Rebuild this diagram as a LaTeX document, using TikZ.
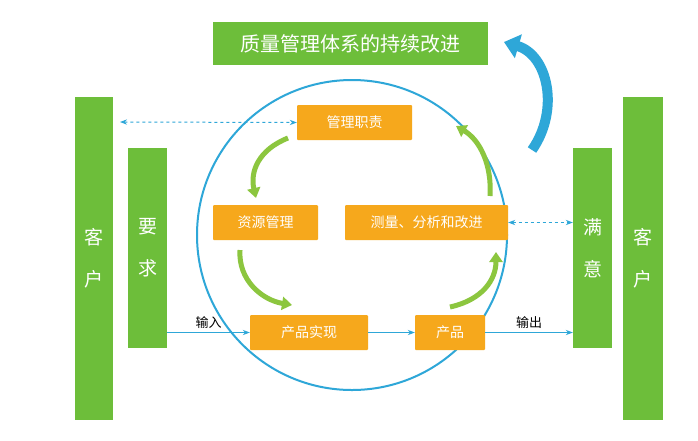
\documentclass[tikz,border=0pt]{standalone}
\usepackage{fontspec}
\setmainfont{Noto Sans CJK SC}
\usetikzlibrary{arrows.meta}
\definecolor{gbar}{HTML}{6DBE3A}
\definecolor{obox}{HTML}{F6A81C}
\definecolor{cblue}{HTML}{2EA7D8}
\definecolor{garr}{HTML}{8CC63F}
\begin{document}
\begin{tikzpicture}[x=1pt,y=-1pt,
  bar/.style={draw=none,fill=gbar,text=white,font=\fontsize{19}{22}\selectfont},
  box/.style={draw=none,fill=obox,text=white,font=\fontsize{14}{16}\selectfont,rounded corners=1pt},
  conn/.style={cblue,line width=1pt,-{Stealth[length=7pt]}},
  dconn/.style={cblue,line width=1pt,dashed,{Stealth[length=7pt]}-{Stealth[length=7pt]}},
  garrow/.style={garr,line width=5pt,-{Triangle[width=13pt,length=10pt]}},
  lab/.style={font=\fontsize{13}{15}\selectfont,text=black}]
\useasboundingbox (0,0) rectangle (698,440);
\fill[white] (0,0) rectangle (698,440);
\draw[cblue,line width=2pt] (352,235) circle (155);
% bars
\node[bar,minimum width=38pt,minimum height=323pt,align=center] (kl) at (94,258) {客\\[20pt]户};
\node[bar,minimum width=39pt,minimum height=200pt,align=center] (yq) at (147.5,248) {要\\[20pt]求};
\node[bar,minimum width=39pt,minimum height=200pt,align=center] (my) at (592.5,248) {满\\[20pt]意};
\node[bar,minimum width=40pt,minimum height=323pt,align=center] (kr) at (643,258) {客\\[20pt]户};
\node[bar,minimum width=275pt,minimum height=43pt,font=\fontsize{20}{24}\selectfont] (top) at (350.5,43.5) {质量管理体系的持续改进};
% boxes
\node[box,minimum width=115pt,minimum height=35pt] (gl) at (354.5,122.5) {管理职责};
\node[box,minimum width=105pt,minimum height=35pt] (zy) at (265.5,222.5) {资源管理};
\node[box,minimum width=163pt,minimum height=35pt] (cl) at (426.5,222.5) {测量、分析和改进};
\node[box,minimum width=118pt,minimum height=35pt] (sx) at (309,332.5) {产品实现};
\node[box,minimum width=70pt,minimum height=35pt] (cp) at (450,332.5) {产品};
% connectors
\coordinate (dl) at (120,122);
\draw[dconn] (dl) -- (gl.west);
\draw[dconn] (cl.east) -- (my.west|-cl);
\draw[conn] (yq.east|-sx) -- node[lab,above] {输入} (sx.west);
\draw[conn] (sx.east) -- (cp.west);
\draw[conn] (cp.east) -- node[lab,above] {输出} (my.west|-cp);
% green arrows
\draw[garrow] (288,138) .. controls (258,150) and (250,172) .. (256,198);
\draw[garrow] (240,250) .. controls (238,280) and (262,300) .. (292,305);
\draw[garrow] (450,307) .. controls (482,300) and (496,280) .. (496,252);
\draw[garrow] (490,196) .. controls (492,165) and (480,140) .. (456,126);
% blue improvement arrow
\coordinate (b1) at (532,150);
\coordinate (b2) at (504,42);
\draw[cblue,line width=10pt,-{Triangle[width=24pt,length=15pt]}] (b1) .. controls (560,110) and (548,55) .. (b2);
\end{tikzpicture}
\end{document}
